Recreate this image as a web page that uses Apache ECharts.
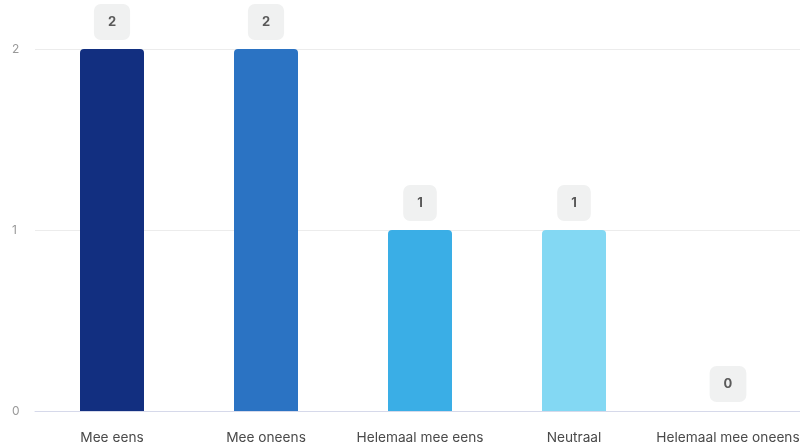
<!DOCTYPE html>
<html>
<head>
<meta charset="utf-8">
<script src="https://cdn.jsdelivr.net/npm/echarts@6/dist/echarts.min.js"></script>
<style>html,body{margin:0;padding:0;background:#fff;overflow:hidden}#c{width:805px;height:448px}</style>
</head>
<body>
<div id="c"></div>
<script>
const categories = ['Mee eens', 'Mee oneens', 'Helemaal mee eens', 'Neutraal', 'Helemaal mee oneens'];
const values = [2, 2, 1, 1, 0];
const colors = ['#122f80', '#2b73c3', '#3aaee6', '#83d8f3', '#b5e6f7'];
const yTicks = [0, 1, 2];

const chart = echarts.init(document.getElementById('c'));
chart.setOption({
  animation: false,
  grid: { left: 35, right: 0, top: 49, bottom: 37, containLabel: false },
  xAxis: {
    type: 'category',
    data: categories,
    axisLine: { show: true, lineStyle: { color: '#d6d9ea', width: 1 } },
    axisTick: { show: false },
    axisLabel: { color: '#4a4a4a', fontSize: 13.7, fontFamily: 'Inter', margin: 20, interval: 0 }
  },
  yAxis: {
    type: 'value',
    min: yTicks[0], max: yTicks[yTicks.length - 1], interval: 1,
    axisLine: { show: false },
    axisTick: { show: false },
    splitLine: { lineStyle: { color: '#ececec' } },
    axisLabel: { color: '#999', fontSize: 12, fontFamily: 'Inter', margin: 23, align: 'left' }
  },
  series: [{
    type: 'bar',
    data: values.map((v, i) => ({ value: v, itemStyle: { color: colors[i] } })),
    barWidth: 64,
    itemStyle: { borderRadius: [4, 4, 0, 0] },
    label: {
      show: true,
      position: 'top',
      distance: 9,
      backgroundColor: '#f0f1f1',
      borderRadius: 7,
      padding: [10, 14],
      color: '#5a5a5a',
      fontWeight: 'bold',
      fontSize: 13,
      lineHeight: 16,
      fontFamily: 'Inter'
    }
  }]
});
</script>
</body>
</html>
